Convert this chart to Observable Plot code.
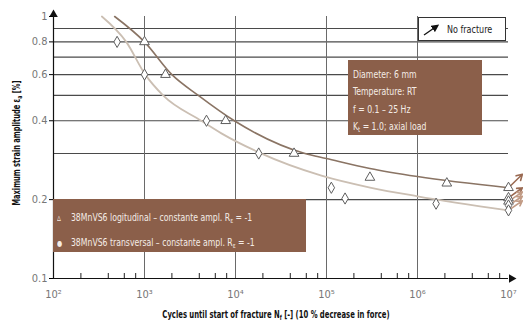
<!DOCTYPE html>
<html>
<head>
<meta charset="utf-8">
<script src="https://cdn.jsdelivr.net/npm/d3@7"></script>
<script src="https://cdn.jsdelivr.net/npm/@observablehq/plot@0.6"></script>
<style>
  body { margin: 0; background: #fff; }
  #wrap { position: relative; width: 523px; height: 325px; overflow: hidden; font-family: "Liberation Sans Narrow", "DejaVu Sans Condensed", "Liberation Sans", sans-serif; }
  #wrap svg { position: absolute; left: 0; top: 0; }
  .box { position: absolute; background: #8b5f4a; color: #f4ece6; font-size: 10.5px; }
  .inner { position: absolute; white-space: nowrap; transform-origin: 0 0; }
  .lab { position: absolute; font-weight: bold; font-size: 10px; color: #111; white-space: nowrap; }
  sub { font-size: 70%; vertical-align: -2px; line-height: 0; }
</style>
</head>
<body>
<div id="wrap"></div>
<script>
// ---- data ----
const xTicks = [1e2, 1e3, 1e4, 1e5, 1e6, 1e7];
const xTickLabels = ["10²", "10³", "10⁴", "10⁵", "10⁶", "10⁷"];
const xMinorTicks = [2e2,4e2,6e2,8e2, 2e3,4e3,6e3,8e3, 2e4,4e4,6e4,8e4, 2e5,4e5,6e5,8e5, 2e6,4e6,6e6,8e6];
const yTicks = [0.1, 0.2, 0.4, 0.6, 0.8, 1];
const yTickLabels = ["0.1", "0.2", "0.4", "0.6", "0.8", "1"];
const hGrid = [0.2, 0.3, 0.4, 0.5, 0.6, 0.7, 0.8, 0.9];
const vGrid = [1e3, 1e4, 1e5, 1e6];

// 38MnVS6 longitudinal (triangles)
const longN   = [1000, 1700, 7800, 44000, 300000, 2100000, 1e7, 1e7, 1e7];
const longEps = [0.80, 0.60, 0.40, 0.30, 0.243, 0.231, 0.222, 0.203, 0.197];
// 38MnVS6 transversal (diamonds)
const transN   = [500, 1000, 4800, 18000, 113000, 160000, 1600000, 1e7, 1e7];
const transEps = [0.80, 0.60, 0.40, 0.30, 0.222, 0.202, 0.193, 0.190, 0.182];

// fitted curves (traced)
const longCurveN   = [470, 1000, 2000, 3900, 9700, 58000, 100000, 300000, 1000000, 1e7];
const longCurveEps = [1.0, 0.80, 0.60, 0.50, 0.40, 0.30, 0.287, 0.263, 0.245, 0.222];
const transCurveN   = [340, 630, 1020, 1600, 4200, 7000, 18000, 88000, 310000, 1000000, 1e7];
const transCurveEps = [1.0, 0.80, 0.60, 0.50, 0.40, 0.358, 0.303, 0.247, 0.222, 0.206, 0.182];

// run-out arrows (no fracture)
const runFromEps = [0.222, 0.203, 0.197, 0.190, 0.182];
const runToEps   = [0.250, 0.222, 0.214, 0.206, 0.198];
const runToN = 1.42e7;

const longPts = longN.map((n, i) => ({n, e: longEps[i]}));
const transPts = transN.map((n, i) => ({n, e: transEps[i]}));
const longCurve = longCurveN.map((n, i) => ({n, e: longCurveEps[i]}));
const transCurve = transCurveN.map((n, i) => ({n, e: transCurveEps[i]}));
const runouts = runFromEps.map((e, i) => ({x1: 1e7, y1: e, x2: runToN, y2: runToEps[i], k: i}));

const font = '"Liberation Sans Narrow", "DejaVu Sans Condensed", sans-serif';

const chart = Plot.plot({
  width: 523, height: 325,
  marginLeft: 53, marginRight: 15, marginTop: 16, marginBottom: 47,
  style: {fontFamily: font, fontSize: "11px", background: "transparent", overflow: "visible"},
  x: {type: "log", domain: [1e2, 1e7]},
  y: {type: "log", domain: [0.1, 1]},
  marks: [
    Plot.ruleY(hGrid, {stroke: "#4a4a4a", strokeWidth: 1.2}),
    Plot.ruleX(vGrid, {stroke: "#6a6a6a", strokeWidth: 1}),
    Plot.line(transCurve, {x: "n", y: "e", curve: "monotone-x", stroke: "#cbbfb3", strokeWidth: 1.8}),
    Plot.line(longCurve, {x: "n", y: "e", curve: "monotone-x", stroke: "#8a7464", strokeWidth: 1.6}),
    Plot.arrow(runouts, {x1: "x1", y1: "y1", x2: "x2", y2: "y2", stroke: (d) => d.k < 2 ? "#9a6a52" : "#c29c86", strokeWidth: 1.6, headLength: 7}),
    Plot.dot(longPts, {x: "n", y: "e", symbol: "triangle", r: 3.6, stroke: "#5e5e5e", fill: "white", strokeWidth: 1}),
    Plot.dot(transPts, {x: "n", y: "e", symbol: "diamond", r: 3.4, stroke: "#5e5e5e", fill: "white", strokeWidth: 1}),
    // axes lines with arrowheads
    Plot.ruleX([1e2], {stroke: "#111", strokeWidth: 1.2}),
    Plot.ruleY([0.1], {stroke: "#111", strokeWidth: 1.2}),
    Plot.dot([{x: 1e2, y: 1}], {x: "x", y: "y", symbol: "triangle", r: 3.2, fill: "#111", dy: -2}),
    Plot.dot([{x: 1e7, y: 0.1}], {x: "x", y: "y", symbol: "triangle", r: 3.2, fill: "#111", rotate: 90, dx: 3}),
    Plot.axisX({ticks: xTicks, tickFormat: (d) => xTickLabels[xTicks.indexOf(d)], tickSize: 0, tickPadding: 12, fill: "#777", fontSize: 11, label: null}),
    Plot.axisX({ticks: xMinorTicks, tickFormat: () => "", tickSize: -5, stroke: "#222", label: null}),
    Plot.axisY({ticks: yTicks, tickFormat: (d) => yTickLabels[yTicks.indexOf(d)], tickSize: 4, tickPadding: 2, fill: "#777", fontSize: 11, label: null})
  ]
});

const wrap = document.getElementById("wrap");
wrap.appendChild(chart);

function add(html, cls, css) {
  const d = document.createElement("div");
  d.className = cls;
  d.innerHTML = html;
  Object.assign(d.style, css);
  wrap.appendChild(d);
  return d;
}

// info box
add('<div class="inner" style="left:5px;top:6px;line-height:17.3px;transform:scaleX(0.82)">Diameter: 6 mm<br>Temperature: RT<br>f = 0.1 – 25 Hz<br>K<sub>t</sub> = 1.0; axial load</div>',
  "box", {left: "348px", top: "60px", width: "134px", height: "75px"});

// legend box
add('<div class="inner" style="left:4px;top:6px;line-height:25px;transform:scaleX(0.82)">' +
    '<span style="display:inline-block;width:17px">▵</span>38MnVS6 logitudinal – constante ampl. R<sub>ε</sub> = -1<br>' +
    '<span style="display:inline-block;width:17px;font-size:8px">●</span>38MnVS6 transversal – constante ampl. R<sub>ε</sub> = -1</div>',
  "box", {left: "53px", top: "199px", width: "253px", height: "53px"});

// no fracture box
add('<svg width="20" height="14" style="position:absolute;left:4px;top:5px"><defs><marker id="mh" markerWidth="6" markerHeight="6" refX="4" refY="3" orient="auto"><path d="M0,0 L6,3 L0,6 Z" fill="#111"/></marker></defs><line x1="1" y1="12" x2="14" y2="3" stroke="#111" stroke-width="1.3" marker-end="url(#mh)"/></svg>' +
    '<span class="inner" style="left:28px;top:5px;font-size:10.5px;color:#222;transform:scaleX(0.85)">No fracture</span>',
  "", {position: "absolute", left: "418px", top: "17px", width: "88px", height: "24px", border: "1px solid #333", background: "#fff", boxSizing: "border-box"});

// axis titles
add('Cycles until start of fracture N<sub>f</sub> [-] (10 % decrease in force)', "lab", {left: "276px", top: "309px", transform: "translateX(-50%) scaleX(0.76)"});
add('Maximum strain amplitude ε<sub>a</sub> [%]', "lab", {left: "16px", top: "143px", transform: "translate(-50%,-50%) rotate(-90deg) scaleX(0.74)"});
</script>
</body>
</html>
